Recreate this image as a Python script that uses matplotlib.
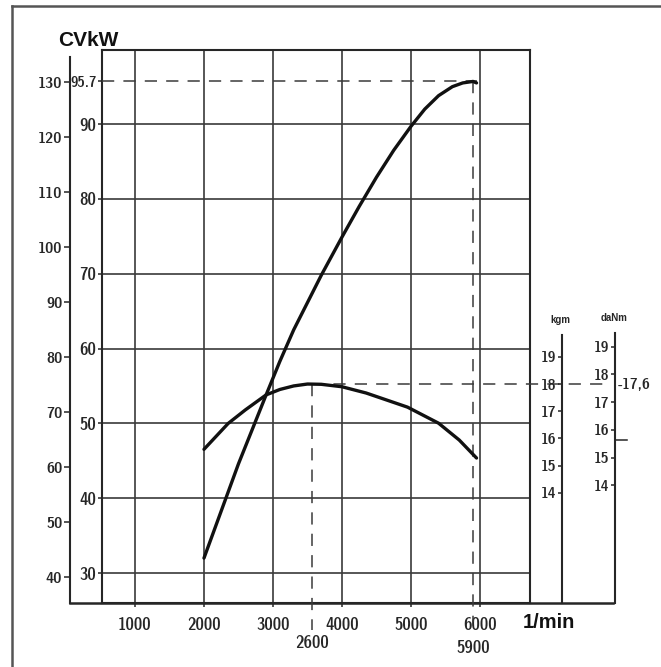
import matplotlib
matplotlib.use('Agg')
from matplotlib import pyplot as plt
from matplotlib import font_manager
from matplotlib.textpath import TextPath

# data
rpm_grid = [1000, 2000, 3000, 4000, 5000, 6000]
kw_grid = [30, 40, 50, 60, 70, 80, 90]
kw_ticks = [30, 40, 50, 60, 70, 80, 90, 95.7]
kw_labels = ['30', '40', '50', '60', '70', '80', '90', '95.7']
cv_ticks = [40, 50, 60, 70, 80, 90, 100, 110, 120, 130]
kgm_ticks = [14, 15, 16, 17, 18, 19]
danm_ticks = [14, 15, 16, 17, 18, 19]

power_rpm = [2000, 2500, 2900, 3100, 3300, 3700, 4000, 4250, 4500, 4750, 5000, 5200, 5400, 5600, 5750, 5900, 5950]
power_kw = [32.0, 44.6, 53.8, 58.3, 62.5, 69.8, 74.9, 79.0, 82.9, 86.5, 89.7, 92.0, 93.8, 95.0, 95.5, 95.7, 95.5]

torque_rpm = [2000, 2350, 2600, 2900, 3100, 3300, 3500, 3700, 4000, 4350, 4950, 5400, 5700, 5950]
torque_kgm = [15.6, 16.55, 17.05, 17.6, 17.8, 17.93, 18.0, 17.99, 17.9, 17.67, 17.15, 16.56, 15.94, 15.28]

peak_power = 95.7
peak_power_rpm = 5900
peak_torque_kgm = 18
peak_torque_danm = 17.6
peak_torque_rpm = 3565

# scales
XLIM = (522, 6725)
KW_LIM = (26.0, 99.9)
KGM_LIM = (9.95, 30.28)
CV_PER_KW = 1.3596
DANM_PER_KGM = 0.980665

W, H = 661, 667
INK = '#262626'
GRID = '#3a3a3a'


def weight_num(w):
    if isinstance(w, str):
        return font_manager.weight_dict.get(w, 400)
    return w


# pick a condensed face whose numbers have the proportions of the scan
TARGET = 2.45
best = None
for f in font_manager.fontManager.ttflist:
    nm = f.name.lower()
    st = str(f.stretch).lower()
    if not ('narrow' in nm or 'condensed' in nm or 'condensed' in st):
        continue
    if f.style != 'normal':
        continue
    wn = weight_num(f.weight)
    if wn < 400 or wn > 700:
        continue
    try:
        fp = font_manager.FontProperties(fname=f.fname)
        ext = TextPath((0, 0), '0000', size=10, prop=fp).get_extents()
        ratio = ext.width / ext.height
    except Exception:
        continue
    score = abs(ratio - TARGET) + 0.15 * abs(wn - 600) / 100
    if best is None or score < best[0]:
        best = (score, fp, ext.height / 10)
if best is None:
    narrow_fp = font_manager.FontProperties(family='DejaVu Sans')
    digit_h = 0.73
else:
    narrow_fp = best[1]
    digit_h = best[2]


def num_font(lab, px_high):
    # size the text so the digits come out px_high pixels tall
    lab.set_fontproperties(narrow_fp)
    lab.set_fontsize(px_high * 0.72 / digit_h)
    lab.set_color(INK)


def rect(l, t, r, b):
    return [l / W, 1 - b / H, (r - l) / W, (b - t) / H]


fig = plt.figure(figsize=(W / 100, H / 100), dpi=100)
fig.patch.set_facecolor('white')

# scan border (top + left only, rest cropped away)
fig.add_artist(plt.Line2D([12 / W, 12 / W], [0, 1 - 6 / H], color='#555555', lw=1.8))
fig.add_artist(plt.Line2D([12 / W, 1], [1 - 6 / H, 1 - 6 / H], color='#555555', lw=1.8))

# CV axis + long base line
ax_cv = fig.add_axes(rect(70, 50, 613, 603))
ax_cv.set_facecolor('none')
ax_cv.set_ylim(KW_LIM[0] * CV_PER_KW, KW_LIM[1] * CV_PER_KW)
ax_cv.set_xlim(0, 1)
for s in ['top', 'right']:
    ax_cv.spines[s].set_visible(False)
ax_cv.spines['left'].set_bounds(KW_LIM[0] * CV_PER_KW, 134.5)
ax_cv.spines['left'].set_color(INK)
ax_cv.spines['left'].set_linewidth(1.5)
ax_cv.spines['bottom'].set_color(INK)
ax_cv.spines['bottom'].set_linewidth(1.8)
ax_cv.set_xticks([])
ax_cv.set_yticks(cv_ticks)
ax_cv.tick_params(axis='y', direction='out', length=4, width=1.1, color=INK, pad=1.5)
for lab in ax_cv.get_yticklabels():
    num_font(lab, 12.5)

# main grid (kW / rpm)
ax = fig.add_axes(rect(102, 50, 530, 603))
ax.set_facecolor('none')
ax.set_xlim(*XLIM)
ax.set_ylim(*KW_LIM)
for s in ax.spines.values():
    s.set_color(INK)
    s.set_linewidth(1.5)
for v in rpm_grid:
    ax.axvline(v, color=GRID, lw=1.2, zorder=1)
for v in kw_grid:
    ax.axhline(v, color=GRID, lw=1.2, zorder=1)
ax.set_xticks(rpm_grid)
ax.set_xticklabels([str(v) for v in rpm_grid])
ax.set_yticks(kw_ticks)
ax.set_yticklabels(kw_labels)
ax.tick_params(axis='x', direction='out', length=3, width=1.1, color=INK, pad=7)
ax.tick_params(axis='y', direction='out', length=3, width=1.1, color=INK, pad=1)
for lab in ax.get_xticklabels():
    num_font(lab, 13)
for lab in ax.get_yticklabels():
    num_font(lab, 11.5 if lab.get_text() == '95.7' else 13)

ax.plot(power_rpm, power_kw, color='#111111', lw=2.4, solid_capstyle='round',
        solid_joinstyle='round', zorder=5)

dash = dict(color=GRID, lw=1.1, dashes=(8, 6), zorder=3, clip_on=False)
ax.plot([XLIM[0], 5960], [peak_power, peak_power], **dash)
ax.plot([peak_power_rpm, peak_power_rpm], [peak_power, 23.5], **dash)

t1 = ax.text(peak_torque_rpm, 20.6, '2600', ha='center', va='center', color=INK)
t2 = ax.text(peak_power_rpm, 20.0, '5900', ha='center', va='center', color=INK)
for t in (t1, t2):
    num_font(t, 13)

# torque curve on a hidden twin scale (kgm)
axt = ax.twinx()
axt.set_ylim(*KGM_LIM)
axt.axis('off')
axt.plot(torque_rpm, torque_kgm, color='#111111', lw=2.4, solid_capstyle='round',
         solid_joinstyle='round', zorder=5)
axt.plot([peak_torque_rpm, 7850], [peak_torque_kgm, peak_torque_kgm], **dash)
kw_span = KW_LIM[1] - KW_LIM[0]
kgm_span = KGM_LIM[1] - KGM_LIM[0]
ax.plot([peak_torque_rpm, peak_torque_rpm],
        [KW_LIM[0] + (peak_torque_kgm - KGM_LIM[0]) / kgm_span * kw_span, 22.4], **dash)

# kgm scale
ax_kgm = fig.add_axes(rect(562, 50, 590, 603))
ax_kgm.set_facecolor('none')
ax_kgm.set_ylim(*KGM_LIM)
for s in ['top', 'right', 'bottom']:
    ax_kgm.spines[s].set_visible(False)
ax_kgm.spines['left'].set_bounds(KGM_LIM[0], 19.8)
ax_kgm.spines['left'].set_color(INK)
ax_kgm.spines['left'].set_linewidth(1.5)
ax_kgm.set_xticks([])
ax_kgm.set_yticks(kgm_ticks)
ax_kgm.tick_params(axis='y', direction='out', length=3, width=1.1, color=INK, pad=1)
for lab in ax_kgm.get_yticklabels():
    num_font(lab, 12)

# daNm scale
ax_danm = fig.add_axes(rect(615, 50, 645, 603))
ax_danm.set_facecolor('none')
ax_danm.set_ylim(KGM_LIM[0] * DANM_PER_KGM, KGM_LIM[1] * DANM_PER_KGM)
for s in ['top', 'right', 'bottom']:
    ax_danm.spines[s].set_visible(False)
ax_danm.spines['left'].set_bounds(KGM_LIM[0] * DANM_PER_KGM, 19.5)
ax_danm.spines['left'].set_color(INK)
ax_danm.spines['left'].set_linewidth(1.5)
ax_danm.set_xticks([])
ax_danm.set_yticks(danm_ticks)
ax_danm.tick_params(axis='y', direction='out', length=3, width=1.1, color=INK, pad=1)
for lab in ax_danm.get_yticklabels():
    num_font(lab, 12)
ax_danm.plot([0, 0.4], [15.63, 15.63], color=INK, lw=1.1,
             transform=ax_danm.get_yaxis_transform(), clip_on=False)
t3 = ax_danm.annotate('-17,6', xy=(0, peak_torque_danm), xycoords=('axes fraction', 'data'),
                      xytext=(2, 0), textcoords='offset points', ha='left', va='center', color=INK)
num_font(t3, 12)

# unit labels
fig.text(58 / W, 1 - 41 / H, 'CVkW', ha='left', va='center', fontsize=15,
         fontweight='bold', family=['Liberation Sans', 'DejaVu Sans'], color='#111111')
fig.text(523 / W, 1 - 622 / H, '1/min', ha='left', va='center', fontsize=14.5,
         fontweight='bold', family=['Liberation Sans', 'DejaVu Sans'], color='#111111')
fig.text(560 / W, 1 - 320 / H, 'kgm', ha='center', va='center', fontsize=7,
         fontweight='bold', family=['Liberation Sans', 'DejaVu Sans'], color=INK)
fig.text(614 / W, 1 - 318 / H, 'daNm', ha='center', va='center', fontsize=7,
         fontweight='bold', family=['Liberation Sans', 'DejaVu Sans'], color=INK)

fig.savefig('out.png', dpi=100)
